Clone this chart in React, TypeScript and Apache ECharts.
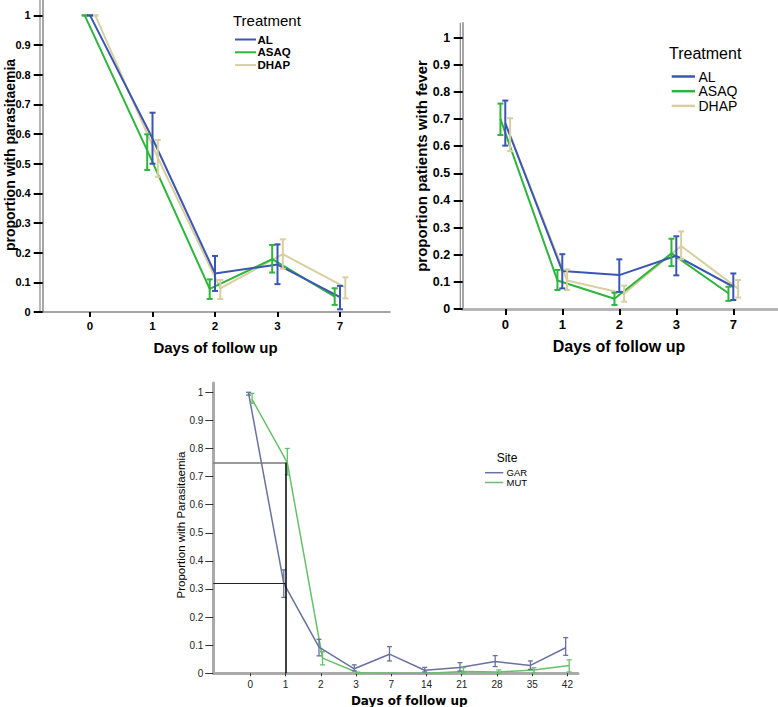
import { useEffect, useRef } from "react";
import * as echarts from "echarts";

// ---------- data ----------
const treatDays = ["0", "1", "2", "3", "7"];
const treatments = ["AL", "ASAQ", "DHAP"];
const treatColors = ["#3a56b2", "#2db53c", "#d7cf9f"];

// proportion with parasitaemia by treatment
const paraMean = [
  [1.0, 0.585, 0.13, 0.16, 0.05],
  [1.0, 0.545, 0.078, 0.178, 0.052],
  [1.0, 0.52, 0.08, 0.195, 0.083],
];
const paraLow = [
  [1.0, 0.5, 0.071, 0.094, 0.009],
  [1.0, 0.479, 0.044, 0.133, 0.024],
  [1.0, 0.456, 0.044, 0.146, 0.046],
];
const paraHigh = [
  [1.0, 0.672, 0.189, 0.228, 0.088],
  [1.0, 0.599, 0.11, 0.226, 0.08],
  [1.0, 0.58, 0.108, 0.245, 0.117],
];

// proportion patients with fever by treatment
const feverMean = [
  [0.685, 0.14, 0.125, 0.196, 0.082],
  [0.7, 0.105, 0.038, 0.205, 0.058],
  [0.64, 0.105, 0.057, 0.232, 0.075],
];
const feverLow = [
  [0.602, 0.076, 0.063, 0.124, 0.033],
  [0.641, 0.07, 0.015, 0.158, 0.03],
  [0.582, 0.07, 0.027, 0.183, 0.042],
];
const feverHigh = [
  [0.768, 0.202, 0.183, 0.268, 0.131],
  [0.757, 0.144, 0.06, 0.259, 0.082],
  [0.703, 0.146, 0.086, 0.286, 0.107],
];

// proportion with parasitaemia by site
const siteDays = ["0", "1", "2", "3", "7", "14", "21", "28", "35", "42"];
const sites = ["GAR", "MUT"];
const siteColors = ["#6a70a0", "#66c06a"];
const siteMean = [
  [0.997, 0.32, 0.093, 0.016, 0.068, 0.011, 0.021, 0.042, 0.028, 0.091],
  [0.975, 0.75, 0.054, 0.002, 0.0, 0.0, 0.006, 0.005, 0.012, 0.028],
];
const siteLow = [
  [0.99, 0.27, 0.062, 0.009, 0.044, 0.005, 0.008, 0.024, 0.014, 0.064],
  [0.961, 0.706, 0.03, 0.0, 0.0, 0.0, 0.0, 0.0, 0.002, 0.005],
];
const siteHigh = [
  [1.0, 0.368, 0.121, 0.03, 0.095, 0.021, 0.038, 0.063, 0.044, 0.127],
  [0.996, 0.8, 0.077, 0.004, 0.0, 0.002, 0.02, 0.012, 0.02, 0.048],
];

const yTicks = [0, 0.1, 0.2, 0.3, 0.4, 0.5, 0.6, 0.7, 0.8, 0.9, 1];

// ---------- helpers ----------
const FONT = "'Liberation Sans', Arial, Helvetica, sans-serif";
const treatDodge = [0, -0.085, 0.085];
const siteDodge = [-0.05, 0.05];

function errorBars(gi: number, low: number[], high: number[], dodge: number, color: string, cap: number, lw: number) {
  return {
    type: "custom",
    xAxisIndex: gi,
    yAxisIndex: gi,
    silent: true,
    z: 4,
    encode: { x: 0, y: [1, 2] },
    data: low.map((l, i) => [i + dodge, l, high[i]]),
    renderItem: (_p: any, api: any) => {
      const x = api.value(0);
      const lo = api.coord([x, api.value(1)]);
      const hi = api.coord([x, api.value(2)]);
      const style = { stroke: color, lineWidth: lw, fill: "none" };
      return {
        type: "group",
        children: [
          { type: "line", shape: { x1: lo[0], y1: lo[1], x2: hi[0], y2: hi[1] }, style },
          { type: "line", shape: { x1: lo[0] - cap, y1: lo[1], x2: lo[0] + cap, y2: lo[1] }, style },
          { type: "line", shape: { x1: hi[0] - cap, y1: hi[1], x2: hi[0] + cap, y2: hi[1] }, style },
        ],
      };
    },
  };
}

function meanLine(gi: number, mean: number[], dodge: number, color: string, lw: number, name: string) {
  return {
    type: "line",
    name,
    xAxisIndex: gi,
    yAxisIndex: gi,
    symbol: "none",
    silent: true,
    z: 3,
    lineStyle: { color, width: lw },
    data: mean.map((v, i) => [i + dodge, v]),
  };
}

function xAxisCfg(gi: number, days: string[], min: number, max: number, o: any) {
  const idx = days.map((_d, i) => i);
  return {
    type: "value",
    gridIndex: gi,
    min,
    max,
    splitLine: { show: false },
    axisLine: { show: true, onZero: false, lineStyle: o.line },
    axisTick: { show: true, customValues: idx, length: o.tickLen, lineStyle: o.tick },
    axisLabel: {
      customValues: idx,
      formatter: (v: number) => days[Math.round(v)] ?? "",
      color: o.labelColor,
      fontSize: o.fontSize,
      fontWeight: o.fontWeight,
      fontFamily: o.fontFamily || FONT,
      margin: o.margin,
    },
  };
}

function yAxisCfg(gi: number, max: number, o: any) {
  return {
    type: "value",
    gridIndex: gi,
    min: 0,
    max,
    splitLine: { show: false },
    axisLine: { show: true, onZero: false, lineStyle: o.line },
    axisTick: { show: true, customValues: yTicks, length: o.tickLen, lineStyle: o.tick },
    axisLabel: {
      customValues: yTicks,
      formatter: (v: number) => (v === 0 ? "0" : v === 1 ? "1" : v.toFixed(1)),
      color: o.labelColor,
      fontSize: o.fontSize,
      fontWeight: o.fontWeight,
      fontFamily: FONT,
      margin: o.margin,
    },
  };
}

function legend(title: string, names: string[], colors: string[], o: any) {
  const els: any[] = [
    {
      type: "text",
      x: o.titleX,
      y: o.titleY,
      style: { text: title, font: o.titleFont, fill: "#000", align: "left", verticalAlign: "middle" },
    },
  ];
  names.forEach((n, i) => {
    const y = o.itemY + i * o.step;
    els.push({
      type: "line",
      shape: { x1: o.lineX1, y1: y, x2: o.lineX2, y2: y },
      style: { stroke: colors[i], lineWidth: o.lw },
    });
    els.push({
      type: "text",
      x: o.labelX,
      y,
      style: { text: n, font: o.itemFont, fill: "#000", align: "left", verticalAlign: "middle" },
    });
  });
  return els;
}

function textEl(text: string, x: number, y: number, font: string, rotate = false) {
  return {
    type: "text",
    x,
    y,
    rotation: rotate ? Math.PI / 2 : 0,
    style: { text, font, fill: "#000", align: "center", verticalAlign: "middle" },
  };
}

export default function App() {
  const ref = useRef<HTMLDivElement>(null);
  useEffect(() => {
    if (!ref.current) return;
    const chart = echarts.init(ref.current, undefined, { renderer: "svg" });

    const g1 = { left: 42.7, top: 0, width: 347.3, height: 312 };
    const g2 = { left: 462.7, top: 22.7, width: 315.3, height: 286.3 };
    const g3 = { left: 213.3, top: 383, width: 364.7, height: 290.3 };

    const topAxisStyle = {
      tick: { color: "#000", width: 2 },
      labelColor: "#000",
      fontWeight: "bold",
    };

    const series: any[] = [];
    [2, 1, 0].forEach((k) => {
      series.push(meanLine(0, paraMean[k], treatDodge[k], treatColors[k], 2, treatments[k]));
      series.push(errorBars(0, paraLow[k], paraHigh[k], treatDodge[k], treatColors[k], 3, 2));
      series.push(meanLine(1, feverMean[k], treatDodge[k], treatColors[k], 2, treatments[k]));
      series.push(errorBars(1, feverLow[k], feverHigh[k], treatDodge[k], treatColors[k], 3, 2));
    });
    const x3min = -1.05;
    [1, 0].forEach((k) => {
      const s: any = meanLine(2, siteMean[k], siteDodge[k], siteColors[k], 1.5, sites[k]);
      series.push(s);
      series.push(errorBars(2, siteLow[k], siteHigh[k], siteDodge[k], siteColors[k], 2.5, 1.3));
    });
    // reference lines at day-1 means
    series.push({
      type: "line",
      xAxisIndex: 2,
      yAxisIndex: 2,
      data: [],
      silent: true,
      markLine: {
        silent: true,
        symbol: "none",
        label: { show: false },
        animation: false,
        data: [
          [
            { coord: [x3min, siteMean[1][1]], lineStyle: { color: "#777", width: 1.5, type: "solid" } },
            { coord: [1, siteMean[1][1]] },
          ],
          [
            { coord: [x3min, siteMean[0][1]], lineStyle: { color: "#222", width: 1, type: "solid" } },
            { coord: [1, siteMean[0][1]] },
          ],
          [
            { coord: [1, 0], lineStyle: { color: "#000", width: 1.5, type: "solid" } },
            { coord: [1, siteMean[1][1]] },
          ],
        ],
      },
    });

    const option: any = {
      animation: false,
      backgroundColor: "#fff",
      grid: [
        { ...g1, outerBoundsMode: "none" },
        { ...g2, outerBoundsMode: "none" },
        { ...g3, outerBoundsMode: "none" },
      ],
      xAxis: [
        xAxisCfg(0, treatDays, -0.757, 4.8, {
          ...topAxisStyle,
          line: { color: "#888", width: 1.5 },
          tickLen: 5,
          fontSize: 11.5,
          margin: 8,
        }),
        xAxisCfg(1, treatDays, -0.747, 4.784, {
          ...topAxisStyle,
          line: { color: "#b5b5b5", width: 3 },
          tickLen: 6,
          fontSize: 13,
          margin: 9,
        }),
        xAxisCfg(2, siteDays, x3min, 9.3, {
          line: { color: "#aaa", width: 3 },
          tick: { color: "#333", width: 1 },
          tickLen: 3,
          labelColor: "#222",
          fontSize: 10,
          fontWeight: "normal",
          margin: 6,
        }),
      ],
      yAxis: [
        yAxisCfg(0, 1.052, {
          ...topAxisStyle,
          line: { color: "#888", width: 1.5 },
          tickLen: 9,
          fontSize: 11,
          margin: 12,
        }),
        yAxisCfg(1, 1.055, {
          ...topAxisStyle,
          line: { color: "#888", width: 1.5 },
          tickLen: 9,
          fontSize: 12.5,
          margin: 12.5,
        }),
        yAxisCfg(2, 1.033, {
          line: { color: "#aaa", width: 3 },
          tick: { color: "#333", width: 1 },
          tickLen: 8,
          labelColor: "#222",
          fontSize: 10,
          fontWeight: "normal",
          margin: 10,
        }),
      ],
      series,
      graphic: [
        // second line of the double y-axes
        { type: "line", shape: { x1: 40, y1: 0, x2: 40, y2: 312 }, style: { stroke: "#888", lineWidth: 1.2 } },
        { type: "line", shape: { x1: 460.3, y1: 22.7, x2: 460.3, y2: 309 }, style: { stroke: "#888", lineWidth: 1.2 } },
        // axis titles
        textEl("proportion with parasitaemia", 10, 155, `bold 14px ${FONT}`, true),
        textEl("Days of follow up", 215.5, 347.5, `bold 15px ${FONT}`),
        textEl("proportion patients with fever", 421.7, 166, `bold 15px ${FONT}`, true),
        textEl("Days of follow up", 619, 346.7, `bold 16px ${FONT}`),
        textEl("Proportion with Parasitaemia", 180.5, 525, `11.5px ${FONT}`, true),
        textEl("Days of follow up", 409.3, 700.5, `bold 12px 'DejaVu Sans', ${FONT}`),
        // legends
        ...legend("Treatment", treatments, treatColors, {
          titleX: 233,
          titleY: 20.7,
          titleFont: `15px ${FONT}`,
          itemY: 39.5,
          step: 12.8,
          lineX1: 235,
          lineX2: 256,
          labelX: 257.5,
          itemFont: `bold 11.5px ${FONT}`,
          lw: 2,
        }),
        ...legend("Treatment", treatments, treatColors, {
          titleX: 669,
          titleY: 53.3,
          titleFont: `16px ${FONT}`,
          itemY: 76.5,
          step: 14.7,
          lineX1: 671.7,
          lineX2: 695,
          labelX: 698.5,
          itemFont: `14px ${FONT}`,
          lw: 2.5,
        }),
        ...legend("Site", sites, siteColors, {
          titleX: 496.7,
          titleY: 457.7,
          titleFont: `12px ${FONT}`,
          itemY: 472.7,
          step: 9.8,
          lineX1: 485,
          lineX2: 503.3,
          labelX: 506.5,
          itemFont: `9.5px ${FONT}`,
          lw: 1.5,
        }),
      ],
    };
    chart.setOption(option);
    return () => chart.dispose();
  }, []);

  return (
    <div
      ref={ref}
      style={{ position: "fixed", left: 0, top: 0, width: 778, height: 707, background: "#fff" }}
    />
  );
}
